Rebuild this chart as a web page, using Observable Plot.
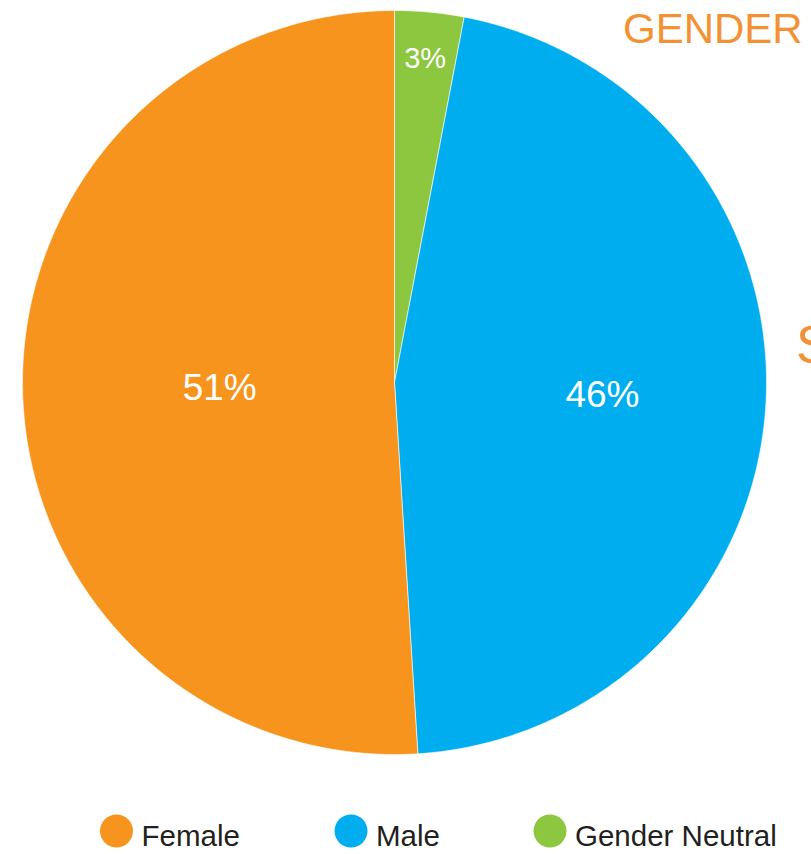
<!DOCTYPE html>
<html>
<head>
<meta charset="utf-8">
<script src="https://cdn.jsdelivr.net/npm/d3@7"></script>
<script src="https://cdn.jsdelivr.net/npm/@observablehq/plot@0.6"></script>
<style>
  html, body { margin: 0; padding: 0; background: #fff; overflow: hidden; }
  #chart { position: relative; width: 811px; height: 854px; }
  svg { font-family: "Liberation Sans", Arial, Helvetica, sans-serif; }
</style>
</head>
<body>
<div id="chart"></div>
<script>
// ---- data ----
const categories = ["Female", "Male", "Gender Neutral"];
const values = [51, 46, 3];
const labels = ["51%", "46%", "3%"];
const colors = ["#F7941D", "#00AEEF", "#8DC63F"];
const title = "GENDER";

// ---- geometry from data (pie drawn clockwise from 12 o'clock: Gender Neutral, Male, Female) ----
const order = [2, 1, 0];
const pieData = order.map(i => ({cat: categories[i], value: values[i], label: labels[i]}));
const arcs = d3.pie().sort(null).value(d => d.value)(pieData);

const pts = [];
for (const a of arcs) {
  const n = Math.max(4, Math.ceil((a.endAngle - a.startAngle) / (Math.PI / 360)));
  pts.push({cat: a.data.cat, x: 0, y: 0});
  for (let k = 0; k <= n; k++) {
    const t = a.startAngle + (a.endAngle - a.startAngle) * k / n;
    pts.push({cat: a.data.cat, x: Math.sin(t), y: Math.cos(t)});
  }
  pts.push({cat: a.data.cat, x: 0, y: 0});
}

const labelR = {"Female": 0.47, "Male": 0.56, "Gender Neutral": 0.875};
const labelPts = arcs.map(a => {
  const m = (a.startAngle + a.endAngle) / 2;
  const r = labelR[a.data.cat];
  return {cat: a.data.cat, label: a.data.label, x: r * Math.sin(m), y: r * Math.cos(m),
          size: a.data.value < 10 ? 29 : 37};
});

const plot = Plot.plot({
  width: 811,
  height: 854,
  margin: 0,
  x: {domain: [-1, 1], range: [22, 766], axis: null},
  y: {domain: [-1, 1], range: [754, 10], axis: null},
  color: {domain: categories, range: colors},
  style: {background: "white", fontFamily: "'Liberation Sans', Arial, Helvetica, sans-serif"},
  marks: [
    Plot.line(pts, {x: "x", y: "y", z: "cat", fill: "cat", stroke: "white", strokeWidth: 0.6, curve: "linear"}),
    Plot.text(labelPts.filter(d => d.size > 30), {x: "x", y: "y", text: "label", fill: "white", fontSize: 37, textAnchor: "middle", lineAnchor: "middle"}),
    Plot.text(labelPts.filter(d => d.size < 30), {x: "x", y: "y", text: "label", fill: "white", fontSize: 29, textAnchor: "middle", lineAnchor: "middle"})
  ]
});

document.getElementById("chart").appendChild(plot);

const svg = d3.select(plot);
svg.append("text")
  .attr("x", 623).attr("y", 43)
  .attr("text-anchor", "start")
  .attr("font-size", 42)
  .attr("fill", "#F39234")
  .text(title);
svg.append("text")
  .attr("x", 796).attr("y", 363)
  .attr("text-anchor", "start")
  .attr("font-size", 53)
  .attr("fill", "#F39234")
  .text("S");

// legend
const legendCx = [116.5, 351, 550];
const legend = svg.append("g").attr("text-anchor", "start");
categories.forEach((c, i) => {
  legend.append("circle")
    .attr("cx", legendCx[i]).attr("cy", 831).attr("r", 16.5)
    .attr("fill", colors[i]);
  legend.append("text")
    .attr("x", legendCx[i] + 25).attr("y", 846)
    .attr("text-anchor", "start")
    .attr("font-size", 29.5)
    .attr("fill", "#231F20")
    .text(c);
});
</script>
</body>
</html>
